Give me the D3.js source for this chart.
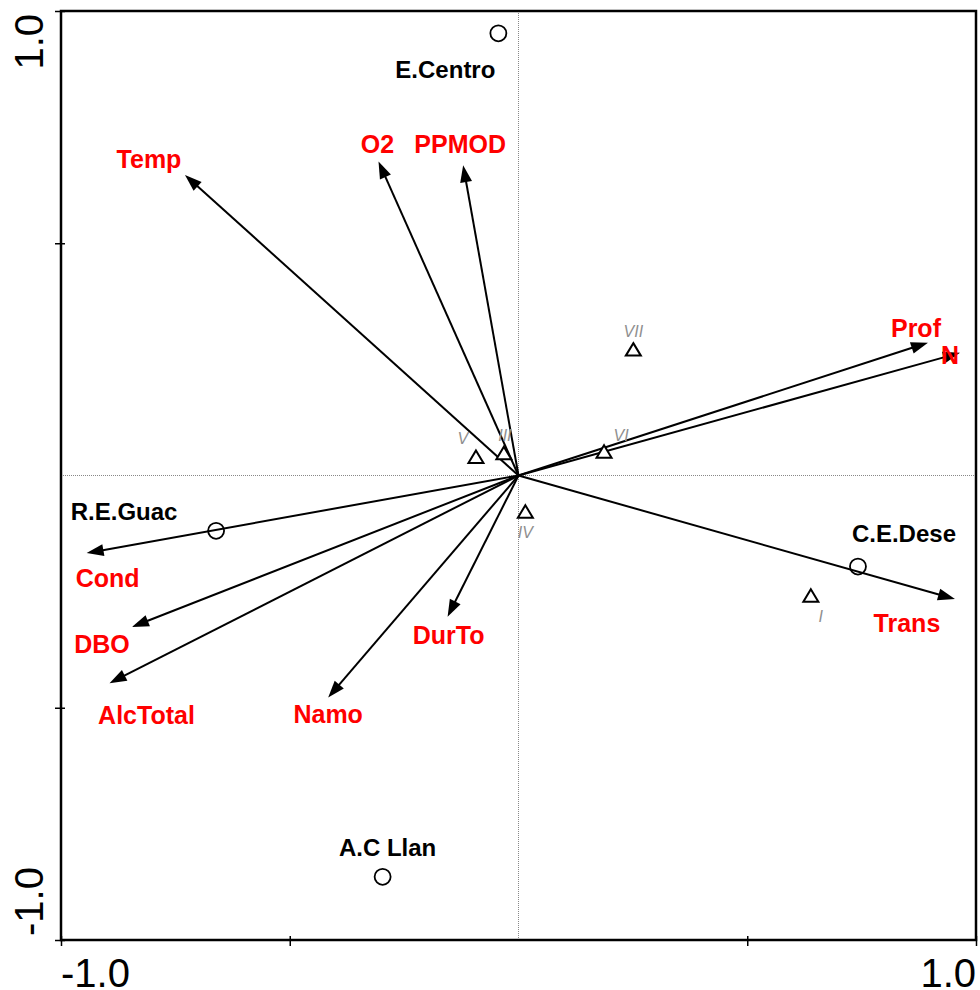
<!DOCTYPE html>
<html>
<head>
<meta charset="utf-8">
<script src="https://cdn.jsdelivr.net/npm/d3@7"></script>
<style>
  html, body { margin: 0; padding: 0; background: #fff; }
  svg { display: block; font-family: "Liberation Sans", Arial, sans-serif; }
</style>
</head>
<body>
<svg id="chart" width="980" height="990"></svg>
<script>
// ---- Data (biplot scores) ----
const envNames = ["Temp", "O2", "PPMOD", "Prof", "N", "Trans", "DurTo", "Namo", "AlcTotal", "DBO", "Cond"];
const envX = [-0.729, -0.306, -0.121, 0.895, 0.965, 0.954, -0.155, -0.416, -0.894, -0.845, -0.944];
const envY = [0.647, 0.676, 0.668, 0.286, 0.264, -0.266, -0.304, -0.478, -0.447, -0.326, -0.167];

const siteNames = ["E.Centro", "R.E.Guac", "C.E.Dese", "A.C Llan"];
const siteX = [-0.044, -0.661, 0.742, -0.297];
const siteY = [0.952, -0.119, -0.196, -0.864];

const sampleNames = ["I", "III", "IV", "V", "VI", "VII"];
const sampleX = [0.639, -0.032, 0.015, -0.093, 0.187, 0.251];
const sampleY = [-0.259, 0.048, -0.078, 0.040, 0.051, 0.271];

const tickValues = [-1, -0.5, 0.5, 1];
const tickLabels = ["-1.0", "1.0"];

// ---- Label placement (pixel offsets from mark) ----
const envLabelOffset = {
  "Temp": [-36, -7], "O2": [-1, -8], "PPMOD": [-3, -12], "Prof": [-12, -6],
  "N": [-10, 11], "Trans": [-48, 33], "DurTo": [1, 27], "Namo": [0, 25],
  "AlcTotal": [37, 41], "DBO": [-30, 26], "Cond": [21, 34]
};
const siteLabelOffset = {
  "E.Centro": [-53, 45], "R.E.Guac": [-92, -11], "C.E.Dese": [46, -25], "A.C Llan": [5, -21]
};
const sampleLabelOffset = {
  "I": [10, 26], "III": [1, -12], "IV": [0, 26], "V": [-13, -13], "VI": [17, -11], "VII": [0, -13]
};

// ---- Layout ----
const pL = 61, pR = 976, pT = 11, pB = 940;
const x = d3.scaleLinear().domain([-1, 1]).range([pL, pR]);
const y = d3.scaleLinear().domain([-1, 1]).range([pB, pT]);

const svg = d3.select("#chart");

// dotted zero lines
svg.append("line")
  .attr("x1", x(0)).attr("x2", x(0)).attr("y1", pT).attr("y2", pB)
  .attr("stroke", "#888").attr("stroke-width", 1).attr("stroke-dasharray", "1,1");
svg.append("line")
  .attr("x1", pL).attr("x2", pR).attr("y1", y(0)).attr("y2", y(0))
  .attr("stroke", "#888").attr("stroke-width", 1).attr("stroke-dasharray", "1,1");

// frame
svg.append("rect")
  .attr("x", pL).attr("y", pT).attr("width", pR - pL).attr("height", pB - pT)
  .attr("fill", "none").attr("stroke", "#000").attr("stroke-width", 2.5);

// ticks via axes
const xAxis = d3.axisBottom(x).tickValues(tickValues).tickSizeInner(6).tickSizeOuter(0).tickFormat("");
const yAxis = d3.axisLeft(y).tickValues(tickValues).tickSizeInner(6).tickSizeOuter(0).tickFormat("");
svg.append("g").attr("transform", `translate(0,${pB})`).call(xAxis)
  .call(g => g.select(".domain").remove())
  .call(g => g.selectAll(".tick line").attr("y1", -4).attr("stroke-width", 1.5));
svg.append("g").attr("transform", `translate(${pL},0)`).call(yAxis)
  .call(g => g.select(".domain").remove())
  .call(g => g.selectAll(".tick line").attr("x1", 4).attr("stroke-width", 1.5));

// tick labels
svg.append("text").attr("x", x(-1)).attr("y", 987).attr("text-anchor", "start")
  .attr("font-size", 40).text(tickLabels[0]);
svg.append("text").attr("x", x(1)).attr("y", 987).attr("text-anchor", "end")
  .attr("font-size", 40).text(tickLabels[1]);
svg.append("text").attr("transform", `translate(43,${y(-1) - 4}) rotate(-90)`).attr("text-anchor", "start")
  .attr("font-size", 40).text(tickLabels[0]);
svg.append("text").attr("transform", `translate(43,${y(1) + 3}) rotate(-90)`).attr("text-anchor", "end")
  .attr("font-size", 40).text(tickLabels[1]);

// arrows
const headLen = 17, headHalf = 6;
envNames.forEach((name, i) => {
  const x0 = x(0), y0 = y(0), x1 = x(envX[i]), y1 = y(envY[i]);
  const dx = x1 - x0, dy = y1 - y0, L = Math.hypot(dx, dy);
  const ux = dx / L, uy = dy / L;
  const bx = x1 - ux * headLen, by = y1 - uy * headLen;
  svg.append("line").attr("x1", x0).attr("y1", y0).attr("x2", bx + ux * 2).attr("y2", by + uy * 2)
    .attr("stroke", "#000").attr("stroke-width", 2);
  svg.append("path")
    .attr("d", `M${x1},${y1}L${bx - uy * headHalf},${by + ux * headHalf}L${bx + uy * headHalf},${by - ux * headHalf}Z`)
    .attr("fill", "#000");
  const off = envLabelOffset[name];
  svg.append("text").attr("x", x1 + off[0]).attr("y", y1 + off[1])
    .attr("text-anchor", "middle").attr("font-size", 25).attr("font-weight", "bold")
    .attr("fill", "#ff0000").text(name);
});

// sites (circles)
siteNames.forEach((name, i) => {
  const cx = x(siteX[i]), cy = y(siteY[i]);
  svg.append("circle").attr("cx", cx).attr("cy", cy).attr("r", 8)
    .attr("fill", "none").attr("stroke", "#000").attr("stroke-width", 1.8);
  const off = siteLabelOffset[name];
  svg.append("text").attr("x", cx + off[0]).attr("y", cy + off[1])
    .attr("text-anchor", "middle").attr("font-size", 24).attr("font-weight", "bold")
    .attr("fill", "#000").text(name);
});

// samples (triangles)
sampleNames.forEach((name, i) => {
  const cx = x(sampleX[i]), cy = y(sampleY[i]);
  svg.append("path")
    .attr("d", `M${cx},${cy - 6.5}L${cx + 7.5},${cy + 6}L${cx - 7.5},${cy + 6}Z`)
    .attr("fill", "#fff").attr("stroke", "#000").attr("stroke-width", 2);
  const off = sampleLabelOffset[name];
  svg.append("text").attr("x", cx + off[0]).attr("y", cy + off[1])
    .attr("text-anchor", "middle").attr("font-size", 16).attr("font-style", "italic")
    .attr("fill", "#8f8f8f").text(name);
});
</script>
</body>
</html>
